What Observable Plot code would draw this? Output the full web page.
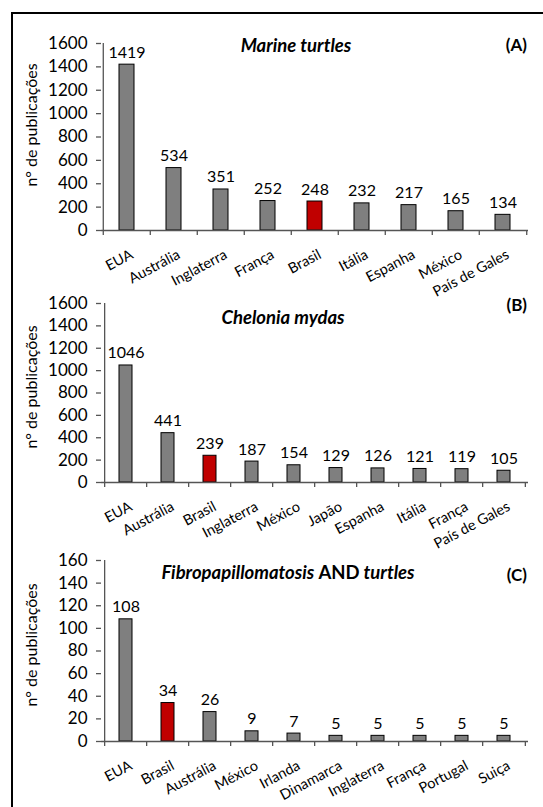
<!DOCTYPE html>
<html>
<head>
<meta charset="utf-8">
<script src="https://cdn.jsdelivr.net/npm/d3@7"></script>
<script src="https://cdn.jsdelivr.net/npm/@observablehq/plot@0.6"></script>
<style>
  body { margin: 0; background: #fff; font-family: Lato, sans-serif; color: #000; }
  #fig { position: relative; width: 543px; height: 807px; overflow: hidden; background: #fff; }
  #frame { position: absolute; left: 11px; top: 12px; width: 600px; height: 900px; border: 2px solid #000; box-sizing: border-box; }
  .panel { position: absolute; left: 0; }
  .title { position: absolute; font-weight: bold; font-style: italic; font-size: 18.5px; line-height: 18px; white-space: nowrap; transform: translateX(-50%); }
  .title .up { font-style: normal; }
  .tag { position: absolute; font-weight: bold; font-size: 17px; line-height: 17px; right: 16px; }
  .ylab { position: absolute; font-size: 16px; line-height: 16px; white-space: nowrap; transform: translate(-50%, -50%) rotate(-90deg); }
</style>
</head>
<body>
<div id="fig">
  <div id="frame"></div>
</div>
<script>
// Publications per country, three searches
const countriesA = ["EUA", "Austrália", "Inglaterra", "França", "Brasil", "Itália", "Espanha", "México", "País de Gales"];
const valuesA = [1419, 534, 351, 252, 248, 232, 217, 165, 134];

const countriesB = ["EUA", "Austrália", "Brasil", "Inglaterra", "México", "Japão", "Espanha", "Itália", "França", "País de Gales"];
const valuesB = [1046, 441, 239, 187, 154, 129, 126, 121, 119, 105];

const countriesC = ["EUA", "Brasil", "Austrália", "México", "Irlanda", "Dinamarca", "Inglaterra", "França", "Portugal", "Suiça"];
const valuesC = [108, 34, 26, 9, 7, 5, 5, 5, 5, 5];

const yTicksAB = [0, 200, 400, 600, 800, 1000, 1200, 1400, 1600];
const yTicksC = [0, 20, 40, 60, 80, 100, 120, 140, 160];

const highlight = "Brasil";
const yLabel = "n° de publicações";

const GRAY = "#7f7f7f", RED = "#c00000", AXIS = "#555555";
const W = 543, ML = 101, MR = 15;

const fig = document.getElementById("fig");

function addHtml(cls, html, style) {
  const el = document.createElement("div");
  el.className = cls;
  el.innerHTML = html;
  Object.assign(el.style, style);
  fig.appendChild(el);
  return el;
}

function panel({countries, values, yTicks, top, height, marginTop, marginBottom}) {
  const n = countries.length;
  const step = (W - ML - MR) / n;
  const yMax = yTicks[yTicks.length - 1];
  const data = countries.map((c, i) => ({country: c, n: values[i]}));
  const svg = Plot.plot({
    width: W,
    height,
    marginTop, marginBottom, marginLeft: ML, marginRight: MR,
    style: {background: "transparent", fontFamily: "Lato, sans-serif", overflow: "visible", color: "#000"},
    x: {domain: countries, paddingInner: 0.68, paddingOuter: 0.34, axis: null},
    y: {domain: [0, yMax], axis: null},
    marks: [
      Plot.barY(data, {filter: d => d.country !== highlight, x: "country", y: "n", fill: GRAY, stroke: "#000", strokeWidth: 1}),
      Plot.barY(data, {filter: d => d.country === highlight, x: "country", y: "n", fill: RED, stroke: "#000", strokeWidth: 1}),
      // category axis line and boundary ticks
      Plot.ruleY([0], {stroke: AXIS, strokeWidth: 1.3}),
      Plot.ruleX(countries, {dx: -step / 2, y1: 0, y2: 0, insetBottom: -5, stroke: AXIS, strokeWidth: 1.3}),
      Plot.ruleX([countries[n - 1]], {dx: step / 2, y1: 0, y2: 0, insetBottom: -5, stroke: AXIS, strokeWidth: 1.3}),
      // value axis line
      Plot.ruleX([countries[0]], {dx: -step / 2, y1: 0, y2: yMax, stroke: AXIS, strokeWidth: 1.3}),
      Plot.axisY({ticks: yTicks, tickFormat: d => String(d), label: null, tickSize: 5, tickPadding: 9, fontSize: 17, stroke: AXIS, fill: "#000", strokeWidth: 1.3}),
      // value labels
      Plot.text(data, {x: "country", y: "n", text: d => String(d.n), lineAnchor: "bottom", dy: -7, fontSize: 16}),
      // rotated category labels
      Plot.text(countries, {x: d => d, y: () => 0, text: d => d, rotate: -28, textAnchor: "end", lineAnchor: "middle", dx: 5, dy: 23, fontSize: 14.5})
    ]
  });
  svg.classList.add("panel");
  svg.style.top = top + "px";
  svg.style.position = "absolute";
  fig.appendChild(svg);
}

panel({countries: countriesA, values: valuesA, yTicks: yTicksAB, top: 0, height: 300, marginTop: 43, marginBottom: 70});
panel({countries: countriesB, values: valuesB, yTicks: yTicksAB, top: 270, height: 270, marginTop: 33, marginBottom: 58});
panel({countries: countriesC, values: valuesC, yTicks: yTicksC, top: 540, height: 267, marginTop: 20, marginBottom: 66});

addHtml("title", "Marine turtles", {left: "296px", top: "36px"});
addHtml("tag", "(A)", {top: "36px"});
addHtml("title", "Chelonia mydas", {left: "283px", top: "308px"});
addHtml("tag", "(B)", {top: "296px"});
addHtml("title", 'Fibropapillomatosis <span class="up">AND</span> turtles', {left: "288px", top: "563px"});
addHtml("tag", "(C)", {top: "566px"});

addHtml("ylab", yLabel, {left: "31px", top: "125px"});
addHtml("ylab", yLabel, {left: "31px", top: "387px"});
addHtml("ylab", yLabel, {left: "31px", top: "645px"});
</script>
</body>
</html>
